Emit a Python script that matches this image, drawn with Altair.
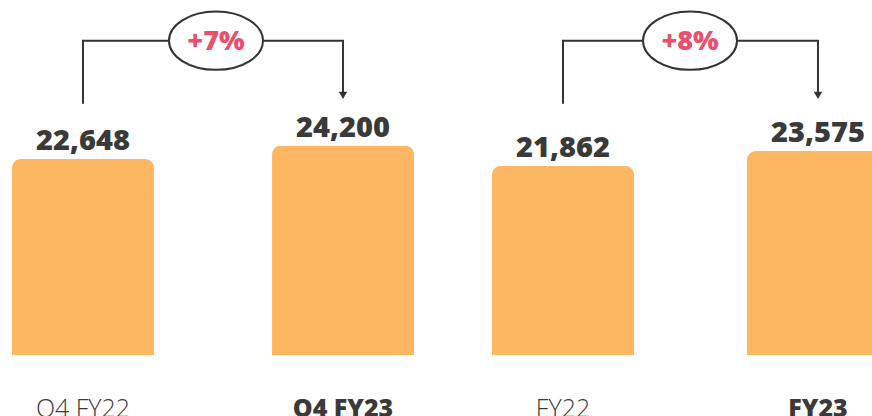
import altair as alt
import pandas as pd

# ---- data ----
labels = ["Q4 FY22", "Q4 FY23", "FY22", "FY23"]
groups = ["Q4", "Q4", "FY", "FY"]
periods = ["prior", "current", "prior", "current"]
values = [22648, 24200, 21862, 23575]

pair_groups = ["Q4", "FY"]
growth_text = ["+7%", "+8%"]

bars_df = pd.DataFrame({"label": labels, "group": groups, "period": periods, "value": values})

# bracket levels (relative to the largest value)
vmax = max(values)
top_level = vmax * 1.5
start_level = vmax * 1.2
tip_level = vmax * 1.23

BAR = "#FDB762"
DARK = "#3a3a3a"
LINE = "#333333"
PINK = "#E8506E"
ELLIPSE = "M -1 0 A 1 0.62 0 1 0 1 0 A 1 0.62 0 1 0 -1 0 Z"
YSCALE = alt.Scale(domain=[-7000, 41000])


def panel(g, growth, x_range, pad_inner, mid_offset):
    df = bars_df[bars_df.group == g].reset_index(drop=True)
    br = pd.DataFrame({
        "period": ["prior", "prior", "current", "current"],
        "y": [start_level, top_level, top_level, tip_level],
        "o": [0, 1, 2, 3],
    })
    arrow = pd.DataFrame({"period": ["current"], "y": [tip_level]})
    gr = pd.DataFrame({"period": ["prior"], "y": [top_level], "txt": [growth]})

    X = alt.X("period:N", sort=["prior", "current"], axis=None,
              scale=alt.Scale(domain=["prior", "current"], range=x_range,
                              paddingInner=pad_inner, paddingOuter=0))
    base = alt.Chart(df)

    bars = base.mark_bar(color=BAR, cornerRadiusTopLeft=9, cornerRadiusTopRight=9).encode(
        x=X, y=alt.Y("value:Q", axis=None, scale=YSCALE)
    )
    vlabels = base.mark_text(font="Open Sans", fontWeight=800, fontSize=29, color=DARK,
                             baseline="alphabetic", dy=-9).encode(
        x=X, y=alt.Y("value:Q", axis=None, scale=YSCALE),
        text=alt.Text("value:Q", format=",")
    )
    cat_reg = base.transform_filter(alt.datum.period == "prior").transform_calculate(
        zero="0").mark_text(font="Open Sans", fontWeight=300, fontSize=25, color=DARK,
                            baseline="alphabetic", dy=62).encode(
        x=X, y=alt.Y("zero:Q", axis=None, scale=YSCALE), text="label:N")
    cat_bold = base.transform_filter(alt.datum.period == "current").transform_calculate(
        zero="0").mark_text(font="Open Sans", fontWeight=800, fontSize=25, color=DARK,
                            baseline="alphabetic", dy=62).encode(
        x=X, y=alt.Y("zero:Q", axis=None, scale=YSCALE), text="label:N")
    bracket = alt.Chart(br).mark_line(color=LINE, strokeWidth=2).encode(
        x=X, y=alt.Y("y:Q", axis=None, scale=YSCALE), order="o:Q")
    head = alt.Chart(arrow).mark_point(shape="triangle-down", filled=True, size=70,
                                       color=LINE, opacity=1, yOffset=-2).encode(
        x=X, y=alt.Y("y:Q", axis=None, scale=YSCALE))
    ell = alt.Chart(gr).mark_point(shape=ELLIPSE, size=94 * 94, filled=True, fill="white",
                                   stroke=LINE, strokeWidth=2, opacity=1,
                                   xOffset=mid_offset).encode(
        x=X, y=alt.Y("y:Q", axis=None, scale=YSCALE))
    gtxt = alt.Chart(gr).mark_text(font="Open Sans", fontWeight=800, fontSize=27, color=PINK,
                                   baseline="middle", dy=1, dx=mid_offset).encode(
        x=X, y=alt.Y("y:Q", axis=None, scale=YSCALE), text="txt:N")

    return alt.layer(bars, vlabels, cat_reg, cat_bold, bracket, head, ell, gtxt)


left = panel("Q4", growth_text[0], [12, 414], 0.454, 133)
right = panel("FY", growth_text[1], [492, 889], 0.443, 127)

chart = alt.layer(left, right).resolve_scale(x="independent").properties(
    width=872, height=416, padding=0, autosize=alt.AutoSizeParams(type="none"),
    background="white"
).configure_view(stroke=None)

chart.save("out.html", embed_options={"renderer": "svg", "actions": False})
